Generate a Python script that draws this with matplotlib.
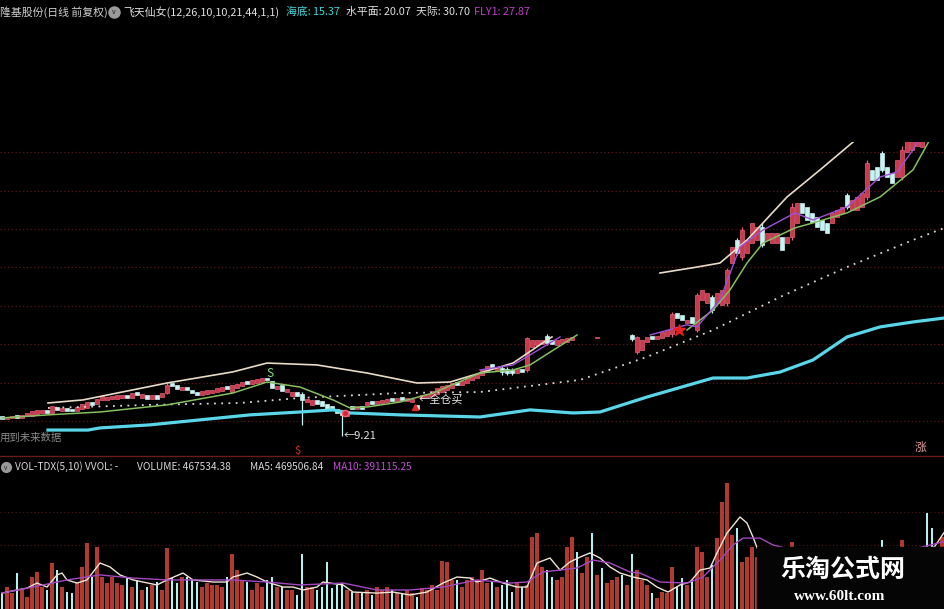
import matplotlib
matplotlib.use('agg')
import matplotlib.pyplot as plt
from matplotlib.patches import Rectangle
import numpy as np

plt.rcParams['font.family'] = ['Noto Sans CJK SC', 'DejaVu Sans']

nan = float('nan')

# daily candles (price), one per bar
opens = [
    10.26, 10.11, 10.16, 10.32, 10.16, 10.26, 10.26, 10.37, 10.42, 10.58,
    10.42, 10.73, 10.52, 10.68, 10.63, 10.52, 10.63, 10.68, 10.99, 10.89,
    11.10, 11.10, 11.15, 11.15, 11.20, 11.36, 11.20, 11.51, 11.20, 11.36,
    11.15, 11.36, 11.25, 11.46, 11.98, 11.88, 11.62, 11.77, 11.62, 11.51,
    11.36, 11.41, 11.46, 11.51, 11.57, 11.83, 11.51, 11.72, 11.83, 12.09,
    11.93, 11.98, 12.03, 12.24, 12.09, 11.67, 11.88, 11.51, 11.31, 11.51,
    11.41, 10.99, 10.84, 11.10, 11.05, 10.89, 10.78, 10.63, 10.52, 10.26,
    10.78, 10.63, 10.78, 10.84, 11.05, 10.89, 10.94, 10.99, 11.20, 11.05,
    11.25, 11.05, 10.99, 10.84, 11.20, 11.25, 11.31, 11.41, 11.51, 11.62,
    11.72, 12.03, 11.88, 11.98, 12.14, 12.24, 12.40, 12.56, 12.97, 12.66,
    12.76, 12.71, 12.66, 12.50, 12.71, 12.66, 13.86, 13.96, 14.01, 14.43,
    14.22, 13.96, 14.07, 14.12, 14.22, 14.43, 14.22, 14.27, 14.43, 14.33,
    14.38, 14.22, 14.27, 14.33, 14.43, 14.27, 14.48, 13.60, 13.70, 14.12,
    14.43, 14.27, 14.33, 14.43, 14.53, 15.63, 15.52, 15.11, 15.42, 14.74,
    16.31, 16.15, 16.46, 16.15, 16.05, 16.15, 18.23, 19.43, 18.54, 18.75,
    19.27, 19.43, 20.11, 19.43, 19.27, 19.27, 19.59, 19.27, 19.59, 20.32,
    21.36, 21.15, 20.84, 20.63, 20.47, 20.32, 20.32, 20.63, 20.84, 21.77,
    20.99, 20.99, 21.15, 21.67, 23.08, 23.23, 23.96, 23.23, 22.92, 22.71,
    22.71, 24.01, 24.12, 24.33, 24.27, 25.30, 25.40, 25.20, 25.30,
]
closes = [
    10.11, 10.21, 10.26, 10.16, 10.32, 10.42, 10.52, 10.58, 10.58, 10.42,
    10.78, 10.58, 10.68, 10.52, 10.52, 10.73, 10.89, 10.99, 10.84, 11.15,
    11.31, 11.25, 11.31, 11.36, 11.36, 11.20, 11.46, 11.36, 11.41, 11.15,
    11.36, 11.15, 11.46, 11.88, 11.83, 11.67, 11.77, 11.62, 11.46, 11.36,
    11.57, 11.62, 11.62, 11.72, 11.77, 11.67, 11.88, 11.93, 12.03, 11.93,
    12.14, 12.19, 12.24, 12.14, 11.72, 11.83, 11.57, 11.67, 11.51, 11.31,
    11.10, 11.15, 11.10, 10.89, 10.78, 10.63, 10.58, 10.42, 10.32, 10.52,
    10.63, 10.78, 10.63, 10.99, 10.89, 11.05, 11.10, 11.15, 11.05, 11.20,
    11.10, 11.20, 11.15, 10.63, 11.36, 11.41, 11.57, 11.72, 11.83, 11.88,
    11.98, 11.88, 12.09, 12.24, 12.35, 12.45, 12.66, 12.87, 12.76, 12.82,
    12.56, 12.50, 12.50, 12.71, 12.56, 14.33, 14.22, 14.22, 14.22, 14.07,
    14.01, 14.22, 14.27, 14.33, 14.38, 14.27, 14.38, 14.43, 14.27, 14.38,
    14.22, 14.33, 14.38, 14.43, 14.27, 14.38, 14.27, 14.38, 14.22, 14.38,
    14.27, 14.43, 14.64, 14.74, 15.58, 15.37, 15.26, 15.26, 15.11, 16.57,
    16.83, 16.67, 15.78, 16.67, 16.83, 17.87, 19.07, 18.75, 19.95, 19.43,
    20.32, 20.11, 19.17, 19.79, 19.79, 19.79, 18.91, 19.59, 21.15, 21.36,
    20.84, 20.47, 20.37, 20.11, 19.95, 19.79, 20.84, 20.99, 21.15, 21.15,
    21.51, 21.67, 21.88, 23.44, 22.56, 22.56, 23.08, 22.71, 22.40, 23.60,
    24.12, 24.85, 25.06, 25.16, 24.95, 25.10, 25.20, 25.50, 25.70,
]
# bars with a visible shadow: index -> (high, low)
wicks = {
    33: (11.98, 11.41), 60: (11.51, 9.80), 68: (10.58, 9.21),
    100: (12.87, 12.40), 101: (12.82, 12.40), 102: (12.77, 12.40),
    105: (14.38, 12.56), 109: (14.53, 13.96), 126: (14.53, 14.17),
    127: (14.43, 13.50), 134: (15.68, 14.38), 139: (16.67, 14.64),
    142: (16.57, 15.63), 145: (17.97, 15.99), 147: (19.53, 18.65),
    148: (20.11, 18.39), 152: (20.32, 19.07), 158: (21.36, 19.43),
    169: (21.88, 21.05), 173: (23.60, 21.51), 176: (24.07, 22.97),
    180: (24.33, 22.56),
}
# bars the indicator does not paint
hidden_bars = [115, 116, 117, 118, 120, 121, 122, 123, 124, 125]

# volume, 10k shares
volume = [
    9.2, 12.7, 9.0, 20.8, 11, 7, 18.5, 21.4, 12.7, 11,
    26.6, 22.5, 12.7, 9.8, 9.2, 15, 24.3, 38, 18.5, 36,
    18.5, 15, 18.5, 15, 14, 18.5, 12.7, 16.8, 11, 12.7,
    13.9, 15.6, 11, 35, 17.9, 15, 18.5, 18.5, 16.8, 15.6,
    12.7, 15, 13.9, 13.9, 12.7, 18.5, 32, 22.5, 16.8, 15.6,
    11, 15, 12.7, 16.8, 18.5, 12.7, 12.7, 11, 11, 8,
    32, 12.7, 12.7, 11, 13, 27, 12, 14, 15, 11,
    10, 9, 10, 11, 8, 12.7, 11, 12.7, 11, 9,
    9, 11, 9, 7, 12, 11, 14, 11, 28, 27,
    17, 17, 12.7, 17, 18.5, 17, 22.5, 15, 15.6, 12.7,
    14, 17, 10, 15, 12.7, 14, 41.6, 44, 24, 22.5,
    18.5, 17, 18.5, 36, 41.6, 33, 20.8, 30, 44, 19.7,
    23.7, 15, 17, 18.5, 19.7, 14, 32, 22.5, 17, 13.9,
    9.2, 6.4, 9.8, 9.2, 24.3, 12.7, 17.9, 13.9, 16.8, 36,
    33, 18.5, 25.4, 41, 62, 72.8, 42.8, 46.8, 27, 30,
    36, 30, 25, 22, 20, 24, 18, 21, 38.7, 30,
    26, 22, 20, 18, 19, 17, 21, 23, 22, 25,
    26, 24, 28, 33, 27, 24, 40, 26, 22, 30,
    40, 34, 30, 28, 32, 55.5, 46.8, 33, 41.6,
]

# indicator lines: (bar, price)
sea_floor = [(9.2, 9.53), (17.2, 9.53), (19.6, 9.64), (29.6, 9.80), (39.6, 10.06),
             (49.6, 10.32), (59.6, 10.47), (66.2, 10.58), (69.6, 10.42), (79.6, 10.32),
             (95.6, 10.21), (105.6, 10.58), (114.2, 10.42), (119.6, 10.47), (129, 11.25),
             (142.2, 12.24), (149, 12.24), (155.6, 12.55), (162.2, 13.18), (169, 14.38),
             (175.6, 14.90), (182.2, 15.16), (188.6, 15.37)]
water_level = [(9.2, 10.68), (29.6, 10.84), (47.6, 10.94), (59.6, 11.20), (79.6, 11.46),
               (95.6, 11.51), (115.6, 12.14), (129, 13.34), (142.2, 14.74), (155.6, 16.46),
               (169, 18.02), (182.2, 19.43), (188.6, 20.07)]
upper_band = [(9.2, 10.94), (16.2, 11.10), (33, 11.98), (46.2, 12.56), (53, 13.02),
              (63, 12.92), (73, 12.50), (83, 11.98), (89.6, 12.03), (95.6, 12.50),
              (102.2, 13.02), (109, 14.22), (110, 14.38), (nan, nan),
              (131.6, 17.71), (139, 18.02), (143.6, 18.23), (149, 19.43), (152.2, 20.32),
              (157, 21.67), (163.6, 23.08), (170.2, 24.53), (171.6, 24.90)]
green_line = [(0, 10.16), (9.2, 10.32), (19.6, 10.47), (33, 10.84), (46.2, 11.46),
              (53, 12.03), (59.6, 11.77), (66.2, 11.10), (69.6, 10.68), (73, 10.73),
              (79.6, 10.99), (86.2, 11.46), (95.6, 12.50), (102.2, 12.66), (105.6, 12.92),
              (115, 14.48), (nan, nan),
              (137, 14.74), (142.2, 15.78), (145.6, 16.83), (149, 18.23), (152.2, 19.27),
              (158.6, 20.06), (162.2, 20.32), (169, 20.84), (175.6, 21.67), (182.2, 23.08),
              (185.2, 24.48), (186, 24.90)]
purple_line = [(95.6, 12.66), (102.2, 12.92), (105.6, 13.44), (111.6, 14.38), (nan, nan),
               (129.6, 14.48), (137, 15.01), (139, 14.90), (143.6, 16.31), (147.6, 19.07),
               (152.2, 19.95), (158.6, 20.84), (162.2, 20.47), (169, 21.15), (175.6, 22.71),
               (179, 22.97), (182.2, 24.12), (183.6, 24.74)]

# volume averages: (bar, value)
vol_ma5 = [(0, 9.2), (3, 11), (5, 12.1), (7, 15), (9, 12.7), (11, 19.7), (12, 20.8),
           (13, 16.8), (15, 15), (17, 16.8), (19.6, 26.6), (21.6, 24.3), (23.6, 19.7),
           (26.2, 16.8), (28.2, 15.6), (31, 13.9), (33, 16.8), (36.2, 20.8), (38.2, 16.8),
           (42.2, 15.6), (45, 15.6), (46.2, 18.5), (49, 20.8), (51, 18.5), (53, 15.6),
           (56.2, 12.7), (58.2, 12.7), (60.2, 11), (63, 12.7), (64.2, 15.6), (68.2, 13.9),
           (70.2, 9.8), (75, 9.2), (78.2, 9.8), (81.6, 8.1), (85, 9.8), (88.2, 15),
           (91, 18.5), (93.6, 17.9), (95, 15.6), (97.6, 17.9), (100.2, 15), (103, 12.7),
           (105, 12.7), (107, 26.6), (109.6, 29.5), (111.6, 22.5), (113.6, 27.2),
           (115.6, 30), (117.6, 32.4), (119.6, 29.5), (121.6, 24.3), (123.6, 20.8),
           (126.2, 18.5), (129, 16.8), (131, 12.7), (133.2, 9.8), (135.6, 13.9),
           (137.6, 15.6), (139.6, 22.5), (141.6, 23.7), (143, 32.4), (145, 43.9),
           (147.6, 53.2), (149, 49.7), (150.2, 41.6), (151.6, 31), (155, 28), (160, 25),
           (165, 22), (170, 24), (175, 27), (180, 30), (184, 34), (186.5, 36), (188.6, 45)]
vol_ma10 = [(0, 9.2), (6.2, 12.7), (13, 16.8), (19.6, 19.7), (26.2, 17.9), (33, 16.8),
            (39.6, 16.8), (46.2, 16.8), (53, 15.6), (59.6, 13.9), (68.2, 15), (75, 11),
            (81.6, 11), (88.2, 12.7), (95, 16.8), (101.6, 15), (105, 15.6), (108.2, 21.4),
            (115, 23.7), (118.2, 28.3), (121.6, 26.6), (125.6, 21.4), (127.6, 20.8),
            (131.6, 15.6), (137, 15), (140.2, 18.5), (143.6, 28.3), (146.2, 37),
            (148.2, 41), (151.6, 41), (154.2, 37), (160, 33), (170, 30), (180, 33),
            (188.6, 39.1)]

price_grid = [10, 12, 14, 16, 18, 20, 22, 24]
vol_grid = [37, 56]

# ---- layout (pixels of the 945x609 picture) ----
W, H = 945, 609
PRICE_LO, PRICE_HI = 8.23, 31.93      # price at the panel bottom / top
PANEL_BOTTOM = 455
CLIP_TOP = 142                        # indicator paints below this row only
X_LO, X_HI = -0.4, 188.6

RED = '#c83a4c'
RED_EDGE = '#e8607a'
CYAN_BAR = '#c8f4f4'
BG = 'black'

fig = plt.figure(figsize=(W / 100, H / 100), dpi=100, facecolor=BG)


def panel(top, bottom):
    a = fig.add_axes([0, 1 - bottom / H, 1, (bottom - top) / H])
    a.set_xlim(X_LO, X_HI)
    a.axis('off')
    return a


ax_grid = panel(0, PANEL_BOTTOM)
ax_grid.set_ylim(PRICE_LO, PRICE_HI)
for p in price_grid:
    ax_grid.axhline(p, color='#5c1616', lw=0.9, ls=(0, (1, 2)))

ax = panel(CLIP_TOP, PANEL_BOTTOM)
top_price = PRICE_LO + (PRICE_HI - PRICE_LO) * (PANEL_BOTTOM - CLIP_TOP) / PANEL_BOTTOM
ax.set_ylim(PRICE_LO, top_price)

o = np.array(opens)
c = np.array(closes)
idx = np.arange(len(o))
up = c >= o
shown = ~np.isin(idx, hidden_bars)
body_lo = np.minimum(o, c)
body_h = np.maximum(np.abs(c - o), 0.05)

for k, (hi, lo) in wicks.items():
    ax.vlines(k, lo, hi, color=RED_EDGE if up[k] else CYAN_BAR, lw=0.9, zorder=2)

m = shown & up
ax.bar(idx[m], body_h[m], bottom=body_lo[m], width=0.62, color=RED,
       edgecolor=RED_EDGE, lw=0.5, zorder=3)
m = shown & ~up
ax.bar(idx[m], body_h[m], bottom=body_lo[m], width=0.62, color=CYAN_BAR,
       edgecolor=CYAN_BAR, lw=0.5, zorder=3)


def draw(a, pts, **kw):
    xs, ys = np.array(pts).T
    a.plot(xs, ys, **kw)


draw(ax, sea_floor, color='#5ad6e8', lw=2.3, zorder=4)
draw(ax, water_level, color='#d8d8d8', lw=1.3, ls=(0, (1, 3)), zorder=4)
draw(ax, upper_band, color='#e8dcc8', lw=1.2, zorder=4)
draw(ax, green_line, color='#86c060', lw=1.1, zorder=4)
draw(ax, purple_line, color='#a050d8', lw=1.0, zorder=4)

# signals
ax.text(53.6, 12.45, 'S', color='#86e086', fontsize=8.5, ha='center', va='center', zorder=5)
ax.plot(68.6, 10.42, 'o', ms=4.5, mfc='#d0243a', mec='#ff6070', zorder=5)
ax.text(68.3, 9.21, '←9.21', color='#e0e0e0', fontsize=8, ha='left', va='center', zorder=5)
ax.plot(82.6, 10.73, '^', ms=5, color='#e02828', zorder=5)
ax.text(83.3, 11.10, '←全仓买', color='#e8e8e8', fontsize=8, ha='left', va='center', zorder=5)
ax.plot(135.4, 14.74, '*', ms=9, color='#e82020', zorder=5)
ax.text(59, 8.45, '$', color='#e03030', fontsize=8, ha='center', va='center', zorder=5)
ax.text(183.6, 8.62, '涨', color='#e8a0a0', fontsize=8.5, ha='center', va='center', zorder=5)

# volume panel
ax_v = panel(462, H)
ax_v.set_ylim(0, 85)
for v in vol_grid:
    ax_v.axhline(v, color='#4a1414', lw=0.9, ls=(0, (1, 2)))
vol = np.array(volume)
ax_v.bar(idx[up], vol[up], width=0.78, color='#b03a30', zorder=2)
ax_v.bar(idx[~up], vol[~up], width=0.5, color='#aef2f2', zorder=2)
draw(ax_v, vol_ma5, color='#f0e4d6', lw=1.0, zorder=3)
draw(ax_v, vol_ma10, color='#a448c0', lw=1.0, zorder=3)

# texts, headers and logo on a pixel canvas
cv = fig.add_axes([0, 0, 1, 1])
cv.set_xlim(0, W)
cv.set_ylim(H, 0)
cv.axis('off')
cv.patch.set_alpha(0)

cv.axhline(456, color='#6e1a1a', lw=1.0)

hdr = dict(fontsize=7.8, va='center', ha='left')
cv.text(0, 12, '隆基股份(日线 前复权)', color='#d0d0d0', **hdr)
cv.plot(114, 12, 'o', ms=8, color='#9a9a9a')
cv.text(114, 12.5, 'v', color='#202020', fontsize=5, ha='center', va='center')
cv.text(123, 12, '飞天仙女(12,26,10,10,21,44,1,1)', color='#e0e0e0', **hdr)
cv.text(286, 12, '海底: 15.37', color='#40d8d8', **hdr)
cv.text(346, 12, '水平面: 20.07', color='#e0e0e0', **hdr)
cv.text(416, 12, '天际: 30.70', color='#e0e0e0', **hdr)
cv.text(474, 12, 'FLY1: 27.87', color='#c040c8', **hdr)

cv.text(0, 438, '用到未来数据', color='#8a8a8a', fontsize=7.5, va='center', ha='left')

vhdr = dict(fontsize=7.3, va='center', ha='left')
cv.plot(6, 467, 'o', ms=7, color='#9a9a9a')
cv.text(6, 467.5, 'v', color='#202020', fontsize=4.5, ha='center', va='center')
cv.text(15, 467, 'VOL-TDX(5,10) VVOL: -', color='#d8d8d8', **vhdr)
cv.text(137, 467, 'VOLUME: 467534.38', color='#d8d8d8', **vhdr)
cv.text(250, 467, 'MA5: 469506.84', color='#d8d8d8', **vhdr)
cv.text(333, 467, 'MA10: 391115.25', color='#c050d0', **vhdr)

cv.add_patch(Rectangle((757, 547), W - 757, H - 547, color='#050505', zorder=10))
cv.text(843, 570, '乐淘公式网', color='white', fontsize=18, fontweight='bold',
        ha='center', va='center', zorder=11)
cv.text(840, 597, 'www.60lt.com', color='white', fontsize=11, fontweight='bold',
        family=['Liberation Serif', 'DejaVu Serif'], ha='center', va='center', zorder=11)

fig.savefig('out.png', dpi=100, facecolor=BG)
